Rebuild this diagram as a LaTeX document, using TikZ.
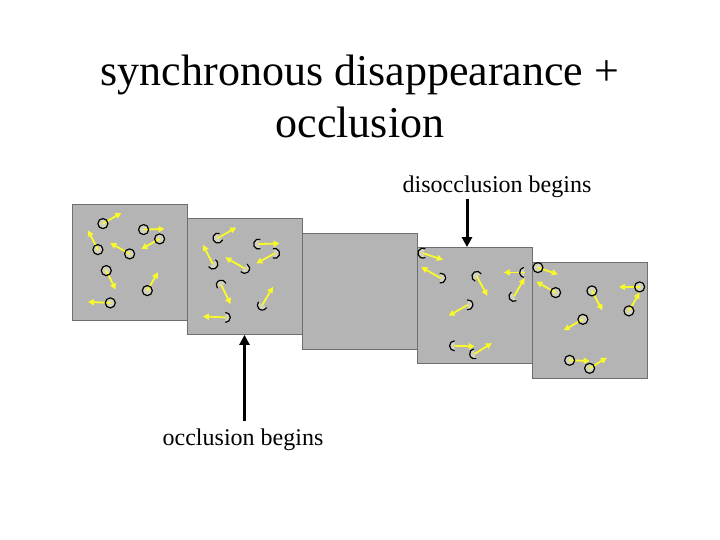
\documentclass[tikz,border=0pt]{standalone}
\usepackage{fontspec}
\setmainfont{Liberation Serif}
\usepackage{tikz}
\usetikzlibrary{calc}
\usetikzlibrary{positioning}
\usetikzlibrary{arrows.meta}
\definecolor{panelgray}{RGB}{180,180,180}
\definecolor{edgegray}{RGB}{110,110,110}
\definecolor{dotyellow}{RGB}{250,250,40}
\definecolor{dotfill}{RGB}{212,212,190}

\begin{document}
\begin{tikzpicture}[x=1pt,y=-1pt]
\tikzstyle{panel}=[rectangle,draw=edgegray,fill=panelgray,line width=0.8pt,minimum width=115pt,minimum height=116pt,inner sep=0pt]
\tikzstyle{captext}=[font=\fontsize{24}{28}\selectfont,inner sep=1pt]
\tikzstyle{move}=[dotyellow,line width=1.8pt,-{Triangle[length=6pt,width=6pt]}]
\tikzstyle{pointer}=[line width=3pt,-{Triangle[length=10pt,width=10pt]}]
\tikzstyle{ring}=[draw=black,line width=1.2pt]
\useasboundingbox (0,0) rectangle (720,540);
\node[align=center,font=\fontsize{44}{52}\selectfont] (title) at (360,96) {synchronous disappearance +\\occlusion};
% five frames, each one step later
\foreach \i in {1,...,5}
  \node[panel] (p\i) at ({129.5+115*(\i-1)},{262+14.5*(\i-1)}) {};
% frame 1: dots fully seen
\begin{scope}[shift={(p1.north west)}]
\foreach \cx/\cy/\tx/\ty in {31.3/20/49.7/9.3, 72/26/93/25.3, 88/35.3/69.7/45.3, 26.3/46/16.3/26.7,
    58/50.3/38.7/39.3, 34.7/67/44/86, 75.7/87/86.3/68.7, 38.7/99.3/16.3/98.3} {
  \fill[dotfill] (\cx,\cy) circle[radius=5pt];
  \draw[move] (\cx,\cy) -- (\tx,\ty);
  \draw[ring] (\cx,\cy) circle[radius=5pt];
}
\end{scope}
% frame 2: dots partly hidden
\begin{scope}[shift={(p2.north west)}]
\foreach \cx/\cy/\tx/\ty/\a/\b in {31.3/20/49.7/9.3/70/340, 72/26/93/25.3/70/290, 88/35.3/69.7/45.3/-110/110,
    26.3/46/16.3/26.7/-150/60, 58/50.3/38.7/39.3/-140/60, 34.7/67/44/86/20/220,
    75.7/87/86.3/68.7/140/330, 38.7/99.3/16.3/98.3/-90/90} {
  \fill[dotfill] (\cx,\cy) -- ++(\a:5pt) arc[start angle=\a,end angle=\b,radius=5pt] -- cycle;
  \draw[move] (\cx,\cy) -- (\tx,\ty);
  \draw[ring] (\cx,\cy) ++(\a:5pt) arc[start angle=\a,end angle=\b,radius=5pt];
}
\end{scope}
% frame 4: dots coming back
\begin{scope}[shift={(p4.north west)}]
\foreach \cx/\cy/\tx/\ty/\a/\b in {6.3/6/26.3/12.7/60/300, 24/31/4.7/20/-100/100, 60.3/29.3/70.7/48.7/30/250,
    108/25.3/87.3/25.3/100/260, 97.3/49.3/108/31/120/300, 51.3/57.7/32/68.7/-100/100,
    38/98.7/58/99.3/90/270, 58/106.7/75.3/96/100/290} {
  \fill[dotfill] (\cx,\cy) -- ++(\a:5pt) arc[start angle=\a,end angle=\b,radius=5pt] -- cycle;
  \draw[move] (\cx,\cy) -- (\tx,\ty);
  \draw[ring] (\cx,\cy) ++(\a:5pt) arc[start angle=\a,end angle=\b,radius=5pt];
}
\end{scope}
% frame 5
\begin{scope}[shift={(p5.north west)}]
\foreach \cx/\cy/\tx/\ty in {6.3/6/26.3/12.7, 24/31/4.7/20, 60.3/29.3/70.7/48.7, 108/25.3/87.3/25.3,
    97.3/49.3/108/31, 51.3/57.7/32/68.7, 38/98.7/58/99.3, 58/106.7/75.3/96} {
  \fill[dotfill] (\cx,\cy) circle[radius=5pt];
  \draw[move] (\cx,\cy) -- (\tx,\ty);
  \draw[ring] (\cx,\cy) circle[radius=5pt];
}
\end{scope}
\node[captext] (occl) at (243,440) {occlusion begins};
\draw[pointer,shorten <=7pt] (p2.south |- occl.north) -- (p2.south);
\node[captext] (disocc) at (497,187) {disocclusion begins};
\coordinate (dtip) at ([xshift=-7.5pt]p4.north);
\draw[pointer] (disocc.south -| dtip) -- (dtip);
\end{tikzpicture}
\end{document}
